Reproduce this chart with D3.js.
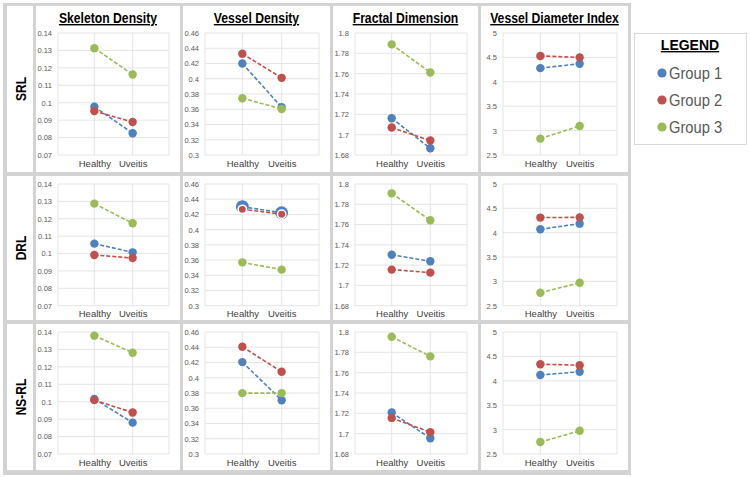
<!DOCTYPE html>
<html><head><meta charset="utf-8">
<script src="https://cdn.jsdelivr.net/npm/d3@7"></script>
<style>
html,body{margin:0;padding:0;background:#fff;}
svg{display:block;font-family:Arial,"Liberation Sans",sans-serif;}
</style></head>
<body><svg id="chart" width="750" height="477"></svg>
<script>
// ---------- data ----------
const categories = ["Healthy", "Uveitis"];
const groups = ["Group 1", "Group 2", "Group 3"];
const rowLabels = ["SRL", "DRL", "NS-RL"];
const metricTitles = ["Skeleton Density", "Vessel Density", "Fractal Dimension", "Vessel Diameter Index"];

const skeletonTickLabels = ["0.07", "0.08", "0.09", "0.1", "0.11", "0.12", "0.13", "0.14"];
const vesselTickLabels = ["0.3", "0.32", "0.34", "0.36", "0.38", "0.4", "0.42", "0.44", "0.46"];
const fractalTickLabels = ["1.68", "1.7", "1.72", "1.74", "1.76", "1.78", "1.8"];
const diameterTickLabels = ["2.5", "3", "3.5", "4", "4.5", "5"];

// each: [Group1 [Healthy, Uveitis], Group2 [...], Group3 [...]]
const skeletonSRL = [[0.0977, 0.0825], [0.0952, 0.0889], [0.1313, 0.1162]];
const vesselSRL = [[0.420, 0.3627], [0.4328, 0.4012], [0.3745, 0.3604]];
const fractalSRL = [[1.7162, 1.6866], [1.7070, 1.6942], [1.7888, 1.7612]];
const diameterSRL = [[4.28, 4.37], [4.53, 4.50], [2.835, 3.095]];

const skeletonDRL = [[0.1057, 0.1007], [0.0992, 0.0974], [0.1287, 0.1174]];
const vesselDRL = [[0.4302, 0.4222], [0.4267, 0.4202], [0.357, 0.3474]];
const fractalDRL = [[1.7302, 1.7238], [1.7156, 1.7126], [1.7908, 1.7642]];
const diameterDRL = [[4.07, 4.185], [4.31, 4.315], [2.767, 2.97]];

const skeletonNSRL = [[0.1016, 0.088], [0.1009, 0.0938], [0.1379, 0.1281]];
const vesselNSRL = [[0.4205, 0.3705], [0.4406, 0.4078], [0.3798, 0.3798]];
const fractalNSRL = [[1.7208, 1.6955], [1.7155, 1.7014], [1.7954, 1.776]];
const diameterNSRL = [[4.12, 4.185], [4.34, 4.32], [2.745, 2.975]];

// ---------- assembly ----------
const tickSets = [skeletonTickLabels, vesselTickLabels, fractalTickLabels, diameterTickLabels];
const panelData = [
  [skeletonSRL, vesselSRL, fractalSRL, diameterSRL],
  [skeletonDRL, vesselDRL, fractalDRL, diameterDRL],
  [skeletonNSRL, vesselNSRL, fractalNSRL, diameterNSRL]
];
const colors = ["#4F81BD", "#C0504D", "#9BBB59"];

// layout
const colBounds = [[7, 33], [36, 180], [183, 330], [333, 478], [481, 628]];
const rowBounds = [[6, 172], [176, 320], [324, 470]];
const plotTop = [33, 184, 332];
const plotBottom = [155, 305.7, 454];
const borderColor = "#d3d3d3";

const svg = d3.select("#chart");
svg.append("rect").attr("x", 0).attr("y", 0).attr("width", 750).attr("height", 477).attr("fill", "#fff");
// outer grey grid frame
svg.append("rect").attr("x", 3).attr("y", 3).attr("width", 628).attr("height", 472).attr("fill", borderColor);
rowBounds.forEach(rb => {
  colBounds.forEach(cb => {
    svg.append("rect").attr("x", cb[0]).attr("y", rb[0])
      .attr("width", cb[1] - cb[0]).attr("height", rb[1] - rb[0]).attr("fill", "#fff");
  });
});

function squeeze(sel, factor) {
  sel.each(function () {
    const w = this.getComputedTextLength();
    d3.select(this).attr("textLength", w * factor).attr("lengthAdjust", "spacingAndGlyphs");
  });
}

// titles
metricTitles.forEach((t, j) => {
  const cb = colBounds[j + 1];
  const tt = svg.append("text").attr("x", (cb[0] + cb[1]) / 2).attr("y", 23)
    .attr("text-anchor", "middle").attr("font-size", 14).attr("font-weight", "bold")
    .attr("text-decoration", "underline").attr("fill", "#000").text(t);
  squeeze(tt, 0.87);
});

// row labels
rowLabels.forEach((r, i) => {
  const rb = rowBounds[i];
  const cx = 25.5, cy = (rb[0] + rb[1]) / 2;
  const tt = svg.append("text").attr("transform", `translate(${cx},${cy}) rotate(-90)`)
    .attr("text-anchor", "middle").attr("font-size", 15).attr("font-weight", "bold")
    .attr("fill", "#000").text(r);
  squeeze(tt, 0.8);
});

// panels
panelData.forEach((row, i) => {
  row.forEach((series, j) => {
    const cb = colBounds[j + 1];
    const left = cb[0] + 22, right = cb[1] - 11;
    const tickVals = tickSets[j].map(Number);
    const y = d3.scaleLinear().domain(d3.extent(tickVals)).range([plotBottom[i], plotTop[i]]);
    const x = d3.scalePoint().domain(categories).range([left, right]).padding(0.95);
    const g = svg.append("g");

    // horizontal grid
    g.selectAll("line.h").data(tickVals).join("line")
      .attr("x1", left).attr("x2", right)
      .attr("y1", d => y(d)).attr("y2", d => y(d))
      .attr("stroke", "#dedede").attr("stroke-width", 0.8);
    // vertical grid: edges + categories
    const vx = [left, right].concat(categories.map(c => x(c)));
    g.selectAll("line.v").data(vx).join("line")
      .attr("x1", d => d).attr("x2", d => d)
      .attr("y1", plotTop[i]).attr("y2", plotBottom[i])
      .attr("stroke", "#dedede").attr("stroke-width", 0.8);

    // y tick labels via axis
    const yAxis = d3.axisLeft(y).tickValues(tickVals).tickSize(0).tickPadding(6)
      .tickFormat((d, k) => tickSets[j][k]);
    const ya = g.append("g").attr("transform", `translate(${left},0)`).call(yAxis);
    ya.select(".domain").remove();
    ya.selectAll("text").attr("font-size", 7.5).attr("fill", "#595959")
      .attr("font-family", "Arial, 'Liberation Sans', sans-serif");

    // x labels via axis
    const xAxis = d3.axisBottom(x).tickSize(0).tickPadding(5);
    const xa = g.append("g").attr("transform", `translate(0,${plotBottom[i]})`).call(xAxis);
    xa.select(".domain").remove();
    xa.selectAll("text").attr("font-size", 9.5).attr("fill", "#404040")
      .attr("font-family", "Arial, 'Liberation Sans', sans-serif");

    const emphasize = (i === 1 && j === 1);
    series.forEach((vals, s) => {
      const pts = vals.map((v, k) => [x(categories[k]), y(v)]);
      g.append("path").attr("d", d3.line()(pts)).attr("fill", "none")
        .attr("stroke", colors[s]).attr("stroke-width", 1.6).attr("stroke-dasharray", "4,2");
      g.selectAll(null).data(pts).join("circle")
        .attr("cx", d => d[0]).attr("cy", d => d[1])
        .attr("r", emphasize && s === 0 ? 6.5 : 4.2)
        .attr("fill", colors[s])
        .attr("stroke", emphasize && s === 1 ? "#fff" : "none")
        .attr("stroke-width", 1.5);
    });
  });
});

// legend
const lg = svg.append("g");
lg.append("rect").attr("x", 634.5).attr("y", 33.5).attr("width", 112).attr("height", 111)
  .attr("fill", "#fff").attr("stroke", "#d9d9d9").attr("stroke-width", 1);
lg.append("text").attr("x", 690).attr("y", 50).attr("text-anchor", "middle")
  .attr("font-size", 14).attr("font-weight", "bold").attr("text-decoration", "underline")
  .attr("fill", "#000").text("LEGEND");
const legY = d3.scalePoint().domain(groups).range([73, 127]);
groups.forEach((gname, s) => {
  lg.append("circle").attr("cx", 662).attr("cy", legY(gname)).attr("r", 4.6).attr("fill", colors[s]);
  const t = lg.append("text").attr("x", 669).attr("y", legY(gname) + 5.8)
    .attr("font-size", 16).attr("fill", "#595959").text(gname);
  squeeze(t, 0.92);
});
</script>
</body></html>
